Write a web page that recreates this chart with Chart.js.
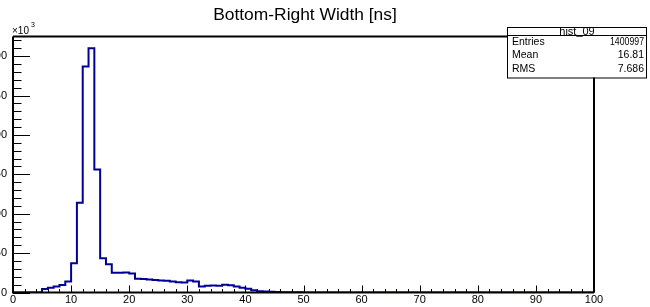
<!DOCTYPE html>
<html>
<head>
<meta charset="utf-8">
<script src="https://cdn.jsdelivr.net/npm/chart.js@4.4.0/dist/chart.umd.min.js"></script>
<style>
  html, body { margin: 0; padding: 0; background: #fff; }
  canvas { display: block; }
</style>
</head>
<body>
<canvas id="hist09" width="650" height="307"></canvas>
<script>
// bin contents in units of 10^3, one bin per ns from 0 to 100
const counts = [
  0, 0, 0, 0, 0, 4.5, 6, 7.5, 9.5, 14,
  37, 114, 287, 310, 156, 43.5, 36, 25, 25, 25.5,
  24, 17.5, 17, 16.5, 16, 15.3, 14.8, 14, 13, 12.7,
  15.3, 14, 7.6, 8.5, 9, 8.5, 9.8, 9.3, 7.6, 6,
  4.7, 3, 1.7, 1.3, 0.8, 0.6, 0.4, 0.3, 0.2, 0.2,
  0.1, 0.1, 0.1, 0.1, 0.1, 0.1, 0.1, 0.1, 0.1, 0.1,
  0, 0, 0, 0, 0, 0, 0, 0, 0, 0,
  0, 0, 0, 0, 0, 0, 0, 0, 0, 0,
  0, 0, 0, 0, 0, 0, 0, 0, 0, 0,
  0, 0, 0, 0, 0, 0, 0, 0, 0, 0
];
const xRange = [0, 100];
const yRange = [0, 325];
const xTicks = [0, 10, 20, 30, 40, 50, 60, 70, 80, 90, 100];
const yTicks = [0, 50, 100, 150, 200, 250, 300];
const xMinorStep = 2;
const yMinorStep = 10;

const title = 'Bottom-Right Width [ns]';
const statsName = 'hist_09';
const statsLabels = ['Entries', 'Mean', 'RMS'];
const statsValues = ['1400997', '16.81', '7.686'];

const FONT = '"Liberation Sans", Arial, sans-serif';

// step outline: one point per lower bin edge, plus the last upper edge
const binWidth = (xRange[1] - xRange[0]) / counts.length;
var pts = [];
for (var i = 0; i < counts.length; i++) {
    pts.push({x: xRange[0] + i * binWidth, y: counts[i]});
}
pts.push({x: xRange[1], y: counts[counts.length - 1]});

const rootFrame = {
    id: 'rootFrame',
    afterDatasetsDraw(chart) {
        const ctx = chart.ctx, a = chart.chartArea;
        const xs = chart.scales.x, ys = chart.scales.y;
        ctx.save();
        ctx.strokeStyle = '#000';

        // ticks drawn inside the frame, ROOT style
        ctx.lineWidth = 1;
        ctx.beginPath();
        for (var v = xRange[0]; v <= xRange[1]; v += xMinorStep) {
            var px = Math.round(xs.getPixelForValue(v)) + 0.5;
            var len = (v % 10 === 0) ? 7 : 3.5;
            ctx.moveTo(px, a.bottom);
            ctx.lineTo(px, a.bottom - len);
        }
        for (var w = yRange[0]; w <= yRange[1]; w += yMinorStep) {
            var py = Math.round(ys.getPixelForValue(w)) + 0.5;
            var ln = (w % 50 === 0) ? 17 : 8.5;
            ctx.moveTo(a.left, py);
            ctx.lineTo(a.left + ln, py);
        }
        ctx.stroke();

        // frame
        ctx.lineWidth = 2;
        ctx.beginPath();
        ctx.moveTo(a.left, a.top);
        ctx.lineTo(a.left, a.bottom);
        ctx.lineTo(a.right, a.bottom);
        ctx.stroke();
        ctx.beginPath();
        ctx.moveTo(a.left, a.top);
        ctx.lineTo(a.right, a.top);
        ctx.lineTo(a.right, a.bottom);
        ctx.stroke();

        // exponent label
        ctx.fillStyle = '#000';
        ctx.textBaseline = 'alphabetic';
        ctx.textAlign = 'left';
        ctx.font = '10px ' + FONT;
        ctx.fillText('\u00d710', a.left - 1, 34);
        ctx.font = '7px ' + FONT;
        ctx.fillText('3', a.left + 18, 27);

        // title
        ctx.textAlign = 'center';
        ctx.textBaseline = 'middle';
        ctx.font = '17.4px ' + FONT;
        ctx.fillText(title, 305, 15.5);

        // stats box
        const bx = 507, by = 27, bw = 140, bh = 50.5;
        ctx.fillStyle = '#fff';
        ctx.fillRect(bx, by, bw, bh);
        ctx.lineWidth = 1;
        ctx.strokeRect(bx + 0.5, by + 0.5, bw - 1, bh);
        ctx.beginPath();
        ctx.moveTo(bx, by + 8.5);
        ctx.lineTo(bx + bw, by + 8.5);
        ctx.stroke();
        ctx.fillStyle = '#000';
        ctx.font = '11px ' + FONT;
        ctx.fillText(statsName, bx + 70, by + 4.5);
        ctx.font = '10.5px ' + FONT;
        for (var k = 0; k < statsLabels.length; k++) {
            var ty = by + 15 + k * 13.5;
            ctx.textAlign = 'left';
            ctx.fillText(statsLabels[k], bx + 5, ty);
            ctx.textAlign = 'right';
            ctx.fillText(statsValues[k], bx + bw - 3, ty, 34);
        }
        ctx.restore();
    }
};

new Chart('hist09', {
    type: 'line',
    data: {
        datasets: [{
            data: pts,
            stepped: 'before',
            borderColor: '#000099',
            borderWidth: 2,
            pointRadius: 0,
            fill: false,
            tension: 0
        }]
    },
    options: {
        responsive: false,
        animation: false,
        devicePixelRatio: 1,
        layout: { padding: { top: 36.5, right: 56, left: 0, bottom: 0 } },
        plugins: { legend: { display: false }, tooltip: { enabled: false }, title: { display: false } },
        scales: {
            x: {
                type: 'linear',
                min: xRange[0],
                max: xRange[1],
                afterBuildTicks: (s) => { s.ticks = xTicks.map(v => ({value: v})); },
                afterFit: (s) => { s.height = 14.5; },
                grid: { display: false, drawTicks: false },
                border: { display: false },
                ticks: {
                    autoSkip: false,
                    maxRotation: 0,
                    padding: 1,
                    color: '#000',
                    font: { family: FONT, size: 11 }
                }
            },
            y: {
                type: 'linear',
                min: yRange[0],
                max: yRange[1],
                afterBuildTicks: (s) => { s.ticks = yTicks.map(v => ({value: v})); },
                afterFit: (s) => { s.width = 13; },
                grid: { display: false, drawTicks: false },
                border: { display: false },
                ticks: {
                    autoSkip: false,
                    padding: 6,
                    color: '#000',
                    font: { family: FONT, size: 11 }
                }
            }
        }
    },
    plugins: [rootFrame]
});
</script>
</body>
</html>
